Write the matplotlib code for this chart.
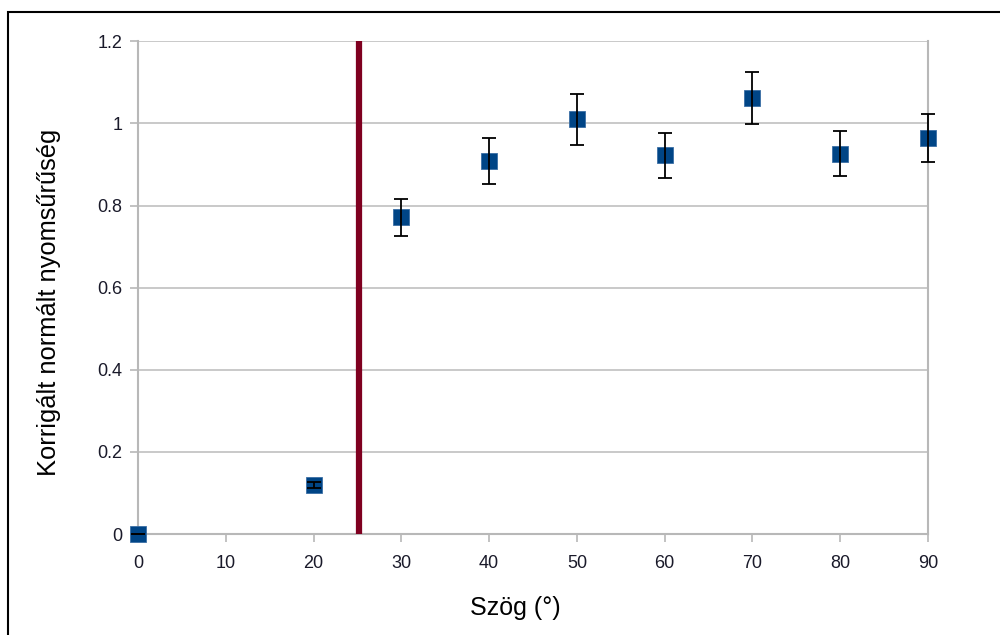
import numpy as np
import matplotlib.pyplot as plt
from matplotlib.patches import Rectangle

plt.rcParams['font.family'] = ['Liberation Sans', 'DejaVu Sans']

# mért szögek és korrigált normált nyomsűrűség
szog = [0, 20, 30, 40, 50, 60, 70, 80, 90]
suruseg = [0.0, 0.119, 0.771, 0.909, 1.010, 0.922, 1.062, 0.926, 0.965]
hiba = [0.0, 0.008, 0.046, 0.056, 0.062, 0.055, 0.063, 0.055, 0.058]
hatar_szog = 25.2

fig = plt.figure(figsize=(10, 6.35), dpi=100)
ax = fig.add_axes([0.138, 0.159, 0.79, 0.776])

# keret az egész kép körül
fig.patches.append(Rectangle((0.008, -0.1), 1.1, 1.081, transform=fig.transFigure,
                             fill=False, edgecolor='black', linewidth=1.5))

ax.set_xlim(0, 90)
ax.set_ylim(0, 1.2)
ax.set_xticks(range(0, 91, 10))
ax.set_yticks([0, 0.2, 0.4, 0.6, 0.8, 1.0, 1.2])
ax.set_yticklabels(['0', '0.2', '0.4', '0.6', '0.8', '1', '1.2'])

ax.grid(axis='y', color='#c0c0c0', linewidth=1.2)
ax.set_axisbelow(True)
ax.spines['top'].set_visible(False)
for s in ['left', 'bottom', 'right']:
    ax.spines[s].set_color('#b8b8b8')
    ax.spines[s].set_linewidth(1.5)
ax.tick_params(axis='both', colors='#b8b8b8', labelcolor='#1a1a2a', labelsize=13,
               length=6, width=1.2)
ax.tick_params(axis='x', pad=9)
ax.tick_params(axis='y', pad=5)

ax.axvline(hatar_szog, color='#7f0020', linewidth=4.5, solid_capstyle='round', zorder=3)

# négyzetek alul, hibasávok felettük
ax.plot(szog, suruseg, 's', color='#004586', markersize=11,
        markeredgecolor='#3a6ea5', markeredgewidth=0.6, zorder=4, clip_on=False)
ax.errorbar(szog, suruseg, yerr=hiba, fmt='none',
            ecolor='black', elinewidth=1.3, capsize=5, capthick=1.3, zorder=5,
            clip_on=False)

ax.set_xlabel('Szög (°)', fontsize=18)
ax.set_ylabel('Korrigált normált nyomsűrűség', fontsize=18.4)
ax.xaxis.set_label_coords(0.478, -0.125)
ax.yaxis.set_label_coords(-0.098, 0.47)

fig.savefig('out.png', dpi=100)
